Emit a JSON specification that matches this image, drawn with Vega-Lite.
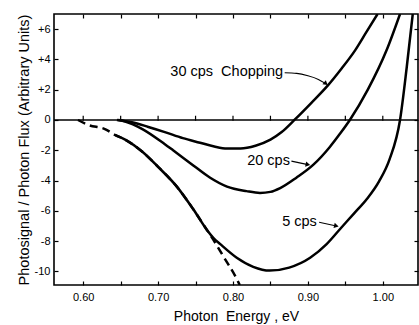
{
  "$schema": "https://vega.github.io/schema/vega-lite/v6.json",
  "width": 364,
  "height": 271,
  "autosize": "none",
  "padding": {"left": 54, "top": 14, "right": 1, "bottom": 40},
  "background": "white",
  "config": {
    "view": {"stroke": "black", "strokeWidth": 1.6},
    "axis": {
      "labelFont": "Liberation Sans",
      "labelFontSize": 11,
      "labelColor": "black",
      "tickColor": "black",
      "tickWidth": 1.2,
      "titleFont": "Liberation Sans",
      "titleFontSize": 14,
      "titleFontWeight": "normal",
      "titleColor": "black",
      "grid": false,
      "domain": false
    },
    "text": {"font": "Liberation Sans"}
  },
  "datasets": {
    "curves": [
      {"s": "30", "x": 0.645, "y": 0},
      {"s": "30", "x": 0.665, "y": -0.15},
      {"s": "30", "x": 0.687, "y": -0.46},
      {"s": "30", "x": 0.709, "y": -0.8},
      {"s": "30", "x": 0.733, "y": -1.2},
      {"s": "30", "x": 0.756, "y": -1.5},
      {"s": "30", "x": 0.775, "y": -1.75},
      {"s": "30", "x": 0.792, "y": -1.88},
      {"s": "30", "x": 0.81, "y": -1.88},
      {"s": "30", "x": 0.83, "y": -1.7},
      {"s": "30", "x": 0.85, "y": -1.3},
      {"s": "30", "x": 0.865, "y": -0.8},
      {"s": "30", "x": 0.882, "y": 0},
      {"s": "30", "x": 0.905, "y": 1.15},
      {"s": "30", "x": 0.927, "y": 2.3},
      {"s": "30", "x": 0.945, "y": 3.4},
      {"s": "30", "x": 0.963, "y": 4.6},
      {"s": "30", "x": 0.978, "y": 5.8},
      {"s": "30", "x": 0.993, "y": 7.0},
      {"s": "20", "x": 0.647, "y": 0},
      {"s": "20", "x": 0.656, "y": -0.1},
      {"s": "20", "x": 0.679, "y": -0.6},
      {"s": "20", "x": 0.709, "y": -1.6},
      {"s": "20", "x": 0.72, "y": -2.0},
      {"s": "20", "x": 0.747, "y": -3.0},
      {"s": "20", "x": 0.769, "y": -3.8},
      {"s": "20", "x": 0.792, "y": -4.4},
      {"s": "20", "x": 0.818, "y": -4.7},
      {"s": "20", "x": 0.836, "y": -4.82},
      {"s": "20", "x": 0.85, "y": -4.75},
      {"s": "20", "x": 0.863, "y": -4.5},
      {"s": "20", "x": 0.885, "y": -3.8},
      {"s": "20", "x": 0.907, "y": -2.97},
      {"s": "20", "x": 0.929, "y": -1.8},
      {"s": "20", "x": 0.943, "y": -0.9},
      {"s": "20", "x": 0.956, "y": 0},
      {"s": "20", "x": 0.98, "y": 2.0},
      {"s": "20", "x": 1.005, "y": 4.6},
      {"s": "20", "x": 1.023, "y": 7.0},
      {"s": "5", "x": 0.643, "y": -1.0},
      {"s": "5", "x": 0.656, "y": -1.3},
      {"s": "5", "x": 0.679, "y": -2.1},
      {"s": "5", "x": 0.7, "y": -3.1},
      {"s": "5", "x": 0.725, "y": -4.4},
      {"s": "5", "x": 0.747, "y": -5.9},
      {"s": "5", "x": 0.765, "y": -7.25},
      {"s": "5", "x": 0.774, "y": -7.8},
      {"s": "5", "x": 0.783, "y": -8.2},
      {"s": "5", "x": 0.805, "y": -9.1},
      {"s": "5", "x": 0.827, "y": -9.7},
      {"s": "5", "x": 0.849, "y": -9.95},
      {"s": "5", "x": 0.875, "y": -9.75},
      {"s": "5", "x": 0.903, "y": -9.1},
      {"s": "5", "x": 0.925, "y": -8.2},
      {"s": "5", "x": 0.943, "y": -7.2},
      {"s": "5", "x": 0.962, "y": -6.15},
      {"s": "5", "x": 0.979, "y": -5.2},
      {"s": "5", "x": 0.995, "y": -4.05},
      {"s": "5", "x": 1.009, "y": -2.6},
      {"s": "5", "x": 1.023, "y": 0},
      {"s": "5", "x": 1.032, "y": 3.5},
      {"s": "5", "x": 1.04, "y": 7.0}
    ],
    "dash": [
      {"x": 0.593, "y": 0},
      {"x": 0.607, "y": -0.33},
      {"x": 0.629, "y": -0.6},
      {"x": 0.643, "y": -1.0},
      {"x": 0.656, "y": -1.3},
      {"x": 0.679, "y": -2.1},
      {"x": 0.7, "y": -3.1},
      {"x": 0.725, "y": -4.4},
      {"x": 0.747, "y": -5.9},
      {"x": 0.765, "y": -7.25},
      {"x": 0.773, "y": -7.85},
      {"x": 0.787, "y": -9.0},
      {"x": 0.805, "y": -10.5},
      {"x": 0.809, "y": -10.9}
    ],
    "zticks": [
      {"x": 0.60}, {"x": 0.65}, {"x": 0.70}, {"x": 0.75}, {"x": 0.80},
      {"x": 0.85}, {"x": 0.90}, {"x": 0.95}, {"x": 1.00}
    ],
    "labels": [
      {"t": "30 cps\u00a0\u00a0Chopping", "x": 0.867, "y": 3.16},
      {"t": "20 cps", "x": 0.876, "y": -2.7},
      {"t": "5 cps", "x": 0.912, "y": -6.72}
    ],
    "arrows": [
      {"a": "30", "o": 1, "x": 0.869, "y": 3.12},
      {"a": "30", "o": 2, "x": 0.885, "y": 3.08},
      {"a": "30", "o": 3, "x": 0.9, "y": 2.92},
      {"a": "30", "o": 4, "x": 0.914, "y": 2.68},
      {"a": "30", "o": 5, "x": 0.924, "y": 2.4},
      {"a": "20", "o": 1, "x": 0.878, "y": -2.72},
      {"a": "20", "o": 2, "x": 0.9, "y": -2.95},
      {"a": "5", "o": 1, "x": 0.915, "y": -6.75},
      {"a": "5", "o": 2, "x": 0.938, "y": -7.0}
    ]
  },
  "layer": [
    {
      "data": {"name": "curves"},
      "mark": {"type": "line", "color": "black", "strokeWidth": 2.5, "interpolate": "monotone", "clip": true},
      "encoding": {
        "x": {
          "field": "x", "type": "quantitative",
          "scale": {"domain": [0.561, 1.047], "nice": false, "zero": false},
          "axis": {
            "orient": "bottom",
            "values": [0.6, 0.65, 0.7, 0.75, 0.8, 0.85, 0.9, 0.95, 1.0],
            "labelExpr": "abs(round(datum.value*100)) % 10 == 0 ? format(datum.value, '.2f') : ''",
            "tickSize": -4,
            "labelPadding": 10,
            "title": "Photon\u00a0\u00a0Energy , eV",
            "titlePadding": 7
          }
        },
        "y": {
          "field": "y", "type": "quantitative",
          "scale": {"domain": [-10.9, 7], "nice": false, "zero": false},
          "axis": {
            "orient": "left",
            "values": [-10, -8, -6, -4, -2, 0, 2, 4, 6],
            "labelExpr": "datum.value > 0 ? '+' + datum.value : '' + datum.value",
            "tickSize": -4,
            "labelPadding": 8,
            "title": "Photosignal / Photon Flux (Arbitrary Units)",
            "titleFontSize": 14.5,
            "titlePadding": 3
          }
        },
        "detail": {"field": "s"}
      }
    },
    {
      "data": {"name": "dash"},
      "mark": {"type": "line", "color": "black", "strokeWidth": 2.5, "strokeDash": [8, 5], "interpolate": "monotone", "clip": true},
      "encoding": {
        "x": {
          "field": "x", "type": "quantitative",
          "axis": {
            "orient": "top",
            "values": [0.6, 0.65, 0.7, 0.75, 0.8, 0.85, 0.9, 0.95, 1.0],
            "labels": false, "tickSize": -4, "title": null
          }
        },
        "y": {
          "field": "y", "type": "quantitative",
          "axis": {
            "orient": "right",
            "values": [-10, -8, -6, -4, -2, 0, 2, 4, 6],
            "labels": false, "tickSize": -4, "title": null
          }
        }
      }
    },
    {
      "data": {"values": [{}]},
      "mark": {"type": "rule", "color": "black", "strokeWidth": 1.5},
      "encoding": {
        "y": {"datum": 0, "type": "quantitative", "axis": null}
      }
    },
    {
      "data": {"name": "zticks"},
      "mark": {"type": "rule", "color": "black", "strokeWidth": 1.2},
      "encoding": {
        "x": {"field": "x", "type": "quantitative", "axis": null},
        "y": {"datum": -0.05, "type": "quantitative", "axis": null},
        "y2": {"datum": 0.28}
      }
    },
    {
      "data": {"name": "arrows"},
      "mark": {"type": "line", "color": "black", "strokeWidth": 1.1, "interpolate": "monotone"},
      "encoding": {
        "x": {"field": "x", "type": "quantitative", "axis": null},
        "y": {"field": "y", "type": "quantitative", "axis": null},
        "detail": {"field": "a"},
        "order": {"field": "o"}
      }
    },
    {
      "data": {"name": "arrows"},
      "transform": [{"filter": "datum.a == '30' && datum.o == 5"}],
      "mark": {"type": "point", "shape": "triangle-right", "filled": true, "color": "black", "size": 28, "angle": 40, "opacity": 1},
      "encoding": {
        "x": {"field": "x", "type": "quantitative", "axis": null},
        "y": {"field": "y", "type": "quantitative", "axis": null}
      }
    },
    {
      "data": {"name": "arrows"},
      "transform": [{"filter": "datum.a == '20' && datum.o == 2"}],
      "mark": {"type": "point", "shape": "triangle-right", "filled": true, "color": "black", "size": 28, "angle": 12, "opacity": 1},
      "encoding": {
        "x": {"field": "x", "type": "quantitative", "axis": null},
        "y": {"field": "y", "type": "quantitative", "axis": null}
      }
    },
    {
      "data": {"name": "arrows"},
      "transform": [{"filter": "datum.a == '5' && datum.o == 2"}],
      "mark": {"type": "point", "shape": "triangle-right", "filled": true, "color": "black", "size": 28, "angle": 13, "opacity": 1},
      "encoding": {
        "x": {"field": "x", "type": "quantitative", "axis": null},
        "y": {"field": "y", "type": "quantitative", "axis": null}
      }
    },
    {
      "data": {"name": "labels"},
      "mark": {"type": "text", "align": "right", "baseline": "middle", "fontSize": 14.5, "color": "black"},
      "encoding": {
        "x": {"field": "x", "type": "quantitative", "axis": null},
        "y": {"field": "y", "type": "quantitative", "axis": null},
        "text": {"field": "t"}
      }
    }
  ],
  "resolve": {"axis": {"x": "independent", "y": "independent"}}
}
